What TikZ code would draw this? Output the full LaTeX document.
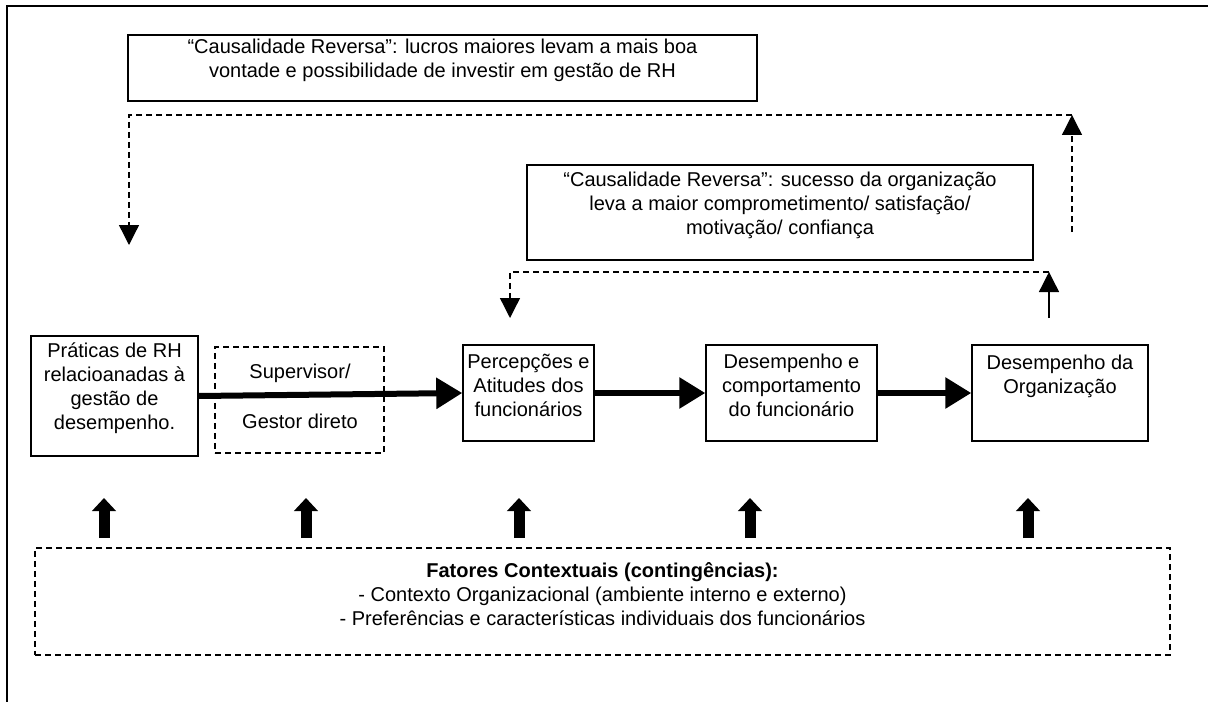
\documentclass[tikz,border=0pt]{standalone}
\usepackage{fontspec}
\setmainfont{Liberation Sans}
\usetikzlibrary{arrows.meta,fit}
\begin{document}
\begin{tikzpicture}[x=0.6pt,y=-0.6pt,
  every node/.style={font=\fontsize{12pt}{14.4pt}\selectfont},
  box/.style={draw, line width=0.9pt, inner sep=0pt, align=center},
  dbox/.style={box, dash pattern=on 3.6pt off 2.4pt},
  fb/.style={line width=0.8pt, -{Triangle[length=12pt,width=12pt]}},
  fbdash/.style={fb, dash pattern=on 3.6pt off 2.4pt},
  flow/.style={line width=3.6pt, -{Triangle[length=15.6pt,width=18pt]}},
  upar/.style={line width=6.6pt, -{Triangle[length=7.8pt,width=14pt]}}
]
\useasboundingbox (0,0) rectangle (1208,702);
% page frame
\draw[line width=1.2pt] (7,702) -- (7,6) -- (1208,6);

% feedback boxes
\node[box, fit={(128,35) (757,101)}] (revA)
  {“Causalidade Reversa”: lucros maiores levam a mais boa\\vontade e possibilidade de investir em gestão de RH};
\node[box, fit={(527,165) (1033,260)}] (revB)
  {“Causalidade Reversa”: sucesso da organização\\leva a maior comprometimento/ satisfação/\\motivação/ confiança};

% main chain
\node[box, fit={(31,336) (198,456)}] (hr)
  {Práticas de RH\\relacioanadas à\\gestão de\\desempenho.};
\node[dbox, fit={(215,347) (384,453)}] (sup) {};
\node at (300,373) (supA) {Supervisor/};
\node at (300,421) (supB) {Gestor direto};
\node[box, fit={(463,345) (594,441)}] (perc)
  {Percepções e\\Atitudes dos\\funcionários};
\node[box, fit={(706,345) (877,441)}] (perf)
  {Desempenho e\\comportamento\\do funcionário};
\node[box, fit={(972,345) (1148,441)}] (org)
  {Desempenho da\\Organização\\~};

\draw[flow] (hr.east) -- (perc.west);
\draw[flow] (perc.east) -- (perf.west);
\draw[flow] (perf.east) -- (org.west);

% contextual factors
\node[dbox, fit={(35,548) (1170,655)}] (ctx)
  {\textbf{Fatores Contextuais (contingências):}\\- Contexto Organizacional (ambiente interno e externo)\\- Preferências e características individuais dos funcionários};

\foreach \x/\n in {104/a,306/b,519/c,750/d,1028/e}{
  \coordinate (u\n0) at (\x,538);
  \coordinate (u\n1) at (\x,498);
  \draw[upar] (u\n0) -- (u\n1);
}

% outer reverse-causality loop
\coordinate (oS) at (1072,232);
\coordinate (oC) at (1072,115);
\coordinate (oL) at (129,115);
\coordinate (oE) at (129,245);
\draw[fbdash] (oS) -- (oC);
\draw[fbdash] (oC) -- (oL) -- (oE);

% inner reverse-causality loop
\coordinate (iS) at (1049,318);
\coordinate (iC) at (1049,272);
\coordinate (iL) at (510,272);
\coordinate (iE) at (510,318);
\draw[fb] (iS) -- (iC);
\draw[fbdash] (iC) -- (iL) -- (iE);
\end{tikzpicture}
\end{document}
